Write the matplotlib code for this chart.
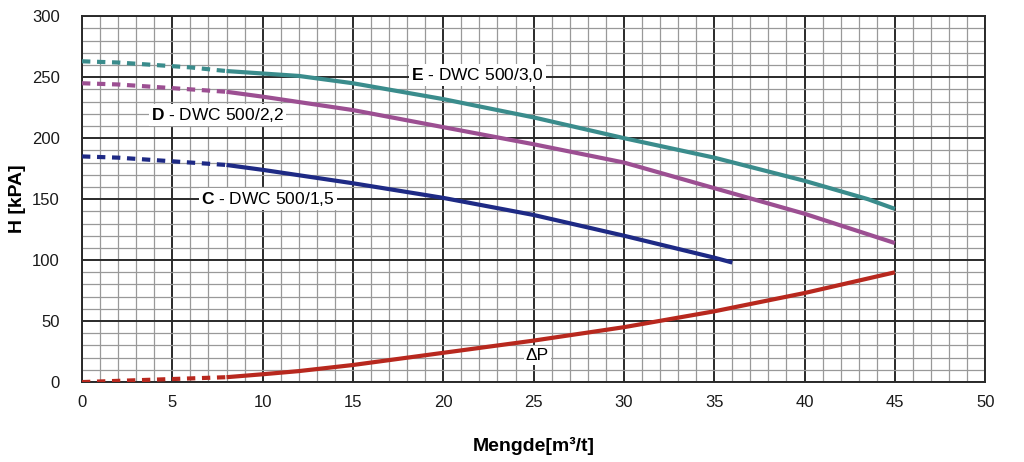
import matplotlib
matplotlib.use("Agg")
import matplotlib.pyplot as plt
from matplotlib.ticker import MultipleLocator

plt.rcParams['font.family'] = ['Liberation Sans', 'DejaVu Sans']
plt.rcParams['mathtext.fontset'] = 'custom'
plt.rcParams['mathtext.bf'] = 'Liberation Sans:bold'
plt.rcParams['mathtext.rm'] = 'Liberation Sans'

# Series data (dashed part: x 0..8, solid part: x 8..end)
e_dash_x = [0, 2, 4, 6, 8]
e_dash_y = [263, 262, 260, 258, 255]
e_x = [8, 10, 12, 15, 20, 25, 30, 35, 40, 43.5, 45]
e_y = [255, 253, 251, 245, 232, 217, 200, 184, 165, 150, 142]

d_dash_x = [0, 2, 4, 6, 8]
d_dash_y = [245, 244, 242, 240, 238]
d_x = [8, 10, 15, 20, 25, 30, 35, 40, 45]
d_y = [238, 234, 223, 209, 195, 180, 159, 138, 114]

c_dash_x = [0, 2, 4, 6, 8]
c_dash_y = [185, 184, 182, 180, 178]
c_x = [8, 10, 15, 20, 25, 30, 35, 36]
c_y = [178, 174, 163, 151, 137, 120, 102, 98]

p_dash_x = [0, 2, 4, 6, 8]
p_dash_y = [0, 1, 2, 3, 4]
p_x = [8, 10, 12, 15, 20, 25, 30, 35, 40, 45]
p_y = [4, 6.4, 9, 14, 24, 34, 45, 58, 73, 90]

colors = {'E': '#3a8c8c', 'D': '#9c4f92', 'C': '#1e2a85', 'P': '#b8281e'}

fig = plt.figure(figsize=(10.24, 4.62), dpi=100)
ax = fig.add_axes([0.0801, 0.173, 0.882, 0.792])

ax.set_xlim(0, 50)
ax.set_ylim(0, 300)
ax.xaxis.set_major_locator(MultipleLocator(5))
ax.yaxis.set_major_locator(MultipleLocator(50))
ax.xaxis.set_minor_locator(MultipleLocator(1))
ax.yaxis.set_minor_locator(MultipleLocator(10))
ax.grid(which='minor', color='#999999', linewidth=0.9, zorder=0)
ax.grid(which='major', color='#2a2a2a', linewidth=1.4, zorder=0)
ax.set_axisbelow(True)
for s in ax.spines.values():
    s.set_color('#2a2a2a')
    s.set_linewidth(1.4)
ax.tick_params(which='both', length=0, labelsize=12, colors='#1a1a1a')
ax.tick_params(axis='x', pad=9)
ax.tick_params(axis='y', pad=16)

dash = (0, (2.0, 1.6))
lw = 3.0
for dx, dy, sx, sy, k in [(e_dash_x, e_dash_y, e_x, e_y, 'E'),
                          (d_dash_x, d_dash_y, d_x, d_y, 'D'),
                          (c_dash_x, c_dash_y, c_x, c_y, 'C'),
                          (p_dash_x, p_dash_y, p_x, p_y, 'P')]:
    ax.plot(dx, dy, color=colors[k], lw=lw, linestyle=dash, zorder=3)
    ax.plot(sx, sy, color=colors[k], lw=lw, solid_capstyle='butt', zorder=3)

box = dict(facecolor='white', edgecolor='none', pad=1.5)
ax.text(21.9, 251.5, r"$\mathbf{E}$ - DWC 500/3,0", fontsize=12.5, ha='center', va='center', bbox=box, zorder=4)
ax.text(7.5, 219, r"$\mathbf{D}$ - DWC 500/2,2", fontsize=12.5, ha='center', va='center', bbox=box, zorder=4)
ax.text(10.3, 150, r"$\mathbf{C}$ - DWC 500/1,5", fontsize=12.5, ha='center', va='center', bbox=box, zorder=4)
ax.text(25.2, 22, "ΔP", fontsize=12.5, ha='center', va='center', bbox=box, zorder=4)

ax.set_ylabel("H [kPA]", fontsize=14, fontweight='bold', labelpad=4)
ax.set_xlabel("Mengde[m³/t]", fontsize=14, fontweight='bold', labelpad=20)

fig.savefig("out.png", dpi=100)
